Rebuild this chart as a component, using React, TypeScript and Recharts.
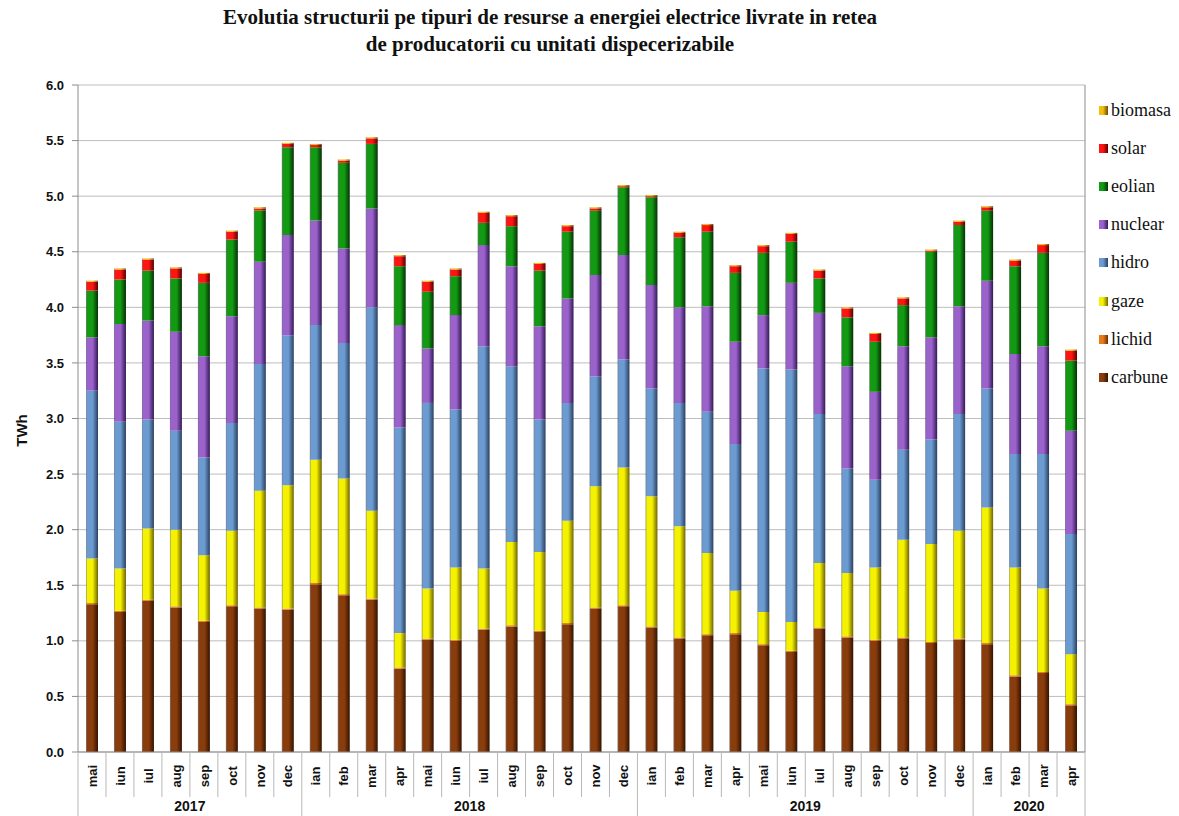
import React from 'react';
import { BarChart, Bar, XAxis, YAxis, CartesianGrid } from 'recharts';

const months = ['mai','iun','iul','aug','sep','oct','nov','dec','ian','feb','mar','apr','mai','iun','iul','aug','sep','oct','nov','dec','ian','feb','mar','apr','mai','iun','iul','aug','sep','oct','nov','dec','ian','feb','mar','apr'];
const yearLabels = ['2017', '2018', '2019', '2020'];
const yearCounts = [8, 12, 12, 4];

const carbune = [1.33,1.26,1.36,1.30,1.17,1.31,1.29,1.28,1.51,1.41,1.37,0.75,1.01,1.00,1.10,1.13,1.08,1.15,1.29,1.31,1.12,1.02,1.05,1.06,0.96,0.90,1.11,1.03,1.00,1.02,0.98,1.01,0.97,0.68,0.71,0.42];
const lichid = [0.01,0.01,0.01,0.01,0.01,0.01,0.01,0.01,0.01,0.01,0.01,0.01,0.01,0.01,0.01,0.01,0.01,0.01,0.01,0.01,0.01,0.01,0.01,0.01,0.01,0.01,0.01,0.01,0.01,0.01,0.01,0.01,0.01,0.01,0.01,0.01];
const gaze = [0.40,0.38,0.64,0.69,0.59,0.67,1.05,1.11,1.11,1.04,0.79,0.31,0.45,0.65,0.54,0.75,0.71,0.92,1.09,1.24,1.17,1.00,0.73,0.38,0.29,0.26,0.58,0.57,0.65,0.88,0.88,0.97,1.22,0.97,0.75,0.45];
const hidro = [1.51,1.32,0.98,0.89,0.88,0.97,1.14,1.35,1.21,1.22,1.83,1.85,1.67,1.42,2.00,1.58,1.19,1.06,0.99,0.97,0.97,1.11,1.27,1.32,2.19,2.27,1.34,0.94,0.79,0.81,0.94,1.05,1.07,1.02,1.21,1.08];
const nuclear = [0.48,0.88,0.89,0.89,0.91,0.96,0.92,0.90,0.94,0.85,0.89,0.92,0.49,0.85,0.91,0.90,0.84,0.94,0.91,0.94,0.93,0.86,0.95,0.92,0.48,0.78,0.91,0.92,0.79,0.93,0.92,0.97,0.97,0.90,0.97,0.93];
const eolian = [0.42,0.40,0.45,0.48,0.66,0.69,0.46,0.79,0.66,0.77,0.58,0.53,0.51,0.35,0.20,0.36,0.50,0.60,0.58,0.61,0.79,0.63,0.67,0.62,0.56,0.37,0.31,0.44,0.45,0.37,0.77,0.73,0.63,0.79,0.84,0.63];
const solar = [0.08,0.09,0.10,0.09,0.08,0.07,0.02,0.03,0.02,0.02,0.05,0.09,0.09,0.06,0.09,0.09,0.06,0.05,0.02,0.01,0.01,0.04,0.06,0.06,0.06,0.07,0.07,0.08,0.07,0.06,0.01,0.03,0.03,0.05,0.07,0.09];
const biomasa = [0.01,0.01,0.01,0.01,0.01,0.01,0.01,0.01,0.01,0.01,0.01,0.01,0.01,0.01,0.01,0.01,0.01,0.01,0.01,0.01,0.01,0.01,0.01,0.01,0.01,0.01,0.01,0.01,0.01,0.01,0.01,0.01,0.01,0.01,0.01,0.01];

const yTicks = [0, 0.5, 1, 1.5, 2, 2.5, 3, 3.5, 4, 4.5, 5, 5.5, 6];

const series = [
  { key: 'carbune', values: carbune, base: '#8a3d0c', dark: '#341200' },
  { key: 'lichid', values: lichid, base: '#ea7a18', dark: '#6a2c00' },
  { key: 'gaze', values: gaze, base: '#f4f200', dark: '#706400' },
  { key: 'hidro', values: hidro, base: '#6b9bd1', dark: '#2a4060' },
  { key: 'nuclear', values: nuclear, base: '#9b62cc', dark: '#321a55' },
  { key: 'eolian', values: eolian, base: '#129a12', dark: '#063006' },
  { key: 'solar', values: solar, base: '#ff1414', dark: '#5a0000' },
  { key: 'biomasa', values: biomasa, base: '#f2be10', dark: '#6a4a00' },
];

const data = months.map((m, i) => {
  const row: any = { month: m };
  series.forEach((s) => { row[s.key] = s.values[i]; });
  return row;
});

const W = 1179;
const H = 816;
const Y_AXIS_W = 78;
const X_AXIS_H = 64;
const M_TOP = 85;
const M_RIGHT = 93;
const PLOT_LEFT = Y_AXIS_W;
const PLOT_RIGHT = W - M_RIGHT - 1;
const BAND = (PLOT_RIGHT - PLOT_LEFT) / months.length;

const groupStarts: number[] = [];
{
  let acc = 0;
  yearCounts.forEach((c) => { groupStarts.push(acc); acc += c; });
}

const MonthTick = (props: any) => {
  const { x, y, payload } = props;
  const i = payload.index;
  const half = BAND / 2;
  const g = groupStarts.indexOf(i);
  const isStart = g >= 0;
  const last = i === months.length - 1;
  return (
    <g>
      <line x1={x - half} x2={x - half} y1={y} y2={isStart ? H : y + 45} stroke="#b8b8b8" strokeWidth={1} />
      {last && <line x1={x + half} x2={x + half} y1={y} y2={H} stroke="#b8b8b8" strokeWidth={1} />}
      <text
        transform={`translate(${x},${y + 24}) rotate(-90)`}
        textAnchor="middle"
        dy="0.36em"
        fontFamily="Liberation Sans, Arial, sans-serif"
        fontWeight="bold"
        fontSize={13}
        fill="#111"
      >
        {payload.value}
      </text>
      {isStart && (
        <text
          x={x - half + (yearCounts[g] * BAND) / 2}
          y={y + 59}
          textAnchor="middle"
          fontFamily="Liberation Sans, Arial, sans-serif"
          fontWeight="bold"
          fontSize={14}
          fill="#111"
        >
          {yearLabels[g]}
        </text>
      )}
    </g>
  );
};

const YLabel = (props: any) => {
  const { viewBox } = props;
  const cx = 22;
  const cy = viewBox.y + viewBox.height / 2 + 12;
  return (
    <text
      transform={`translate(${cx},${cy}) rotate(-90)`}
      textAnchor="middle"
      dy="0.36em"
      fontFamily="Liberation Sans, Arial, sans-serif"
      fontWeight="bold"
      fontSize={15}
      fill="#111"
    >
      TWh
    </text>
  );
};

const legendOrder = [...series].reverse();

export default function App() {
  return (
    <div style={{ position: 'absolute', left: 0, top: 0, width: W, height: H, background: '#fff' }}>
      <div
        style={{
          position: 'absolute',
          left: 0,
          top: 4,
          width: 1100,
          textAlign: 'center',
          fontFamily: '"Liberation Serif", "Times New Roman", serif',
          fontWeight: 'bold',
          fontSize: 21,
          lineHeight: '27px',
          color: '#111',
        }}
      >
        Evolutia structurii pe tipuri de resurse a energiei electrice livrate in retea
        <br />
        de producatorii cu unitati dispecerizabile
      </div>
      <BarChart
        width={W}
        height={H}
        data={data}
        margin={{ top: M_TOP, right: M_RIGHT, left: 0, bottom: 0 }}
        barSize={12}
        style={{ position: 'absolute', left: 0, top: 0 }}
      >
        <defs>
          {series.map((s) => (
            <linearGradient key={s.key} id={`grad-${s.key}`} x1="0" y1="0" x2="1" y2="0">
              <stop offset="0%" stopColor={s.dark} stopOpacity={0.55} />
              <stop offset="12%" stopColor={s.base} />
              <stop offset="55%" stopColor={s.base} />
              <stop offset="100%" stopColor={s.dark} />
            </linearGradient>
          ))}
        </defs>
        <CartesianGrid vertical={false} stroke="#bdbdbd" strokeWidth={1} />
        <XAxis
          dataKey="month"
          interval={0}
          height={X_AXIS_H}
          tickLine={false}
          tickSize={0}
          tickMargin={0}
          axisLine={{ stroke: '#8c8c8c' }}
          tick={<MonthTick />}
        />
        <YAxis
          width={Y_AXIS_W}
          domain={[0, 6]}
          ticks={yTicks}
          interval={0}
          tickFormatter={(v: number) => v.toFixed(1)}
          tickSize={6}
          tickMargin={8}
          axisLine={{ stroke: '#8c8c8c' }}
          tickLine={{ stroke: '#8c8c8c' }}
          tick={{ fontFamily: 'Liberation Sans, Arial, sans-serif', fontWeight: 'bold', fontSize: 13, fill: '#111' }}
          label={<YLabel />}
        />
        <YAxis
          yAxisId="r"
          orientation="right"
          width={1}
          domain={[0, 6]}
          tick={false}
          tickLine={false}
          axisLine={{ stroke: '#8c8c8c' }}
        />
        {series.map((s) => (
          <Bar
            key={s.key}
            dataKey={s.key}
            name={s.key}
            stackId="a"
            fill={`url(#grad-${s.key})`}
            isAnimationActive={false}
          />
        ))}
      </BarChart>
      <div style={{ position: 'absolute', left: 1099, top: 91 }}>
        {legendOrder.map((s) => (
          <div
            key={s.key}
            style={{
              display: 'flex',
              alignItems: 'center',
              height: 38.2,
              fontFamily: '"Liberation Serif", "Times New Roman", serif',
              fontSize: 18,
              color: '#111',
              whiteSpace: 'nowrap',
            }}
          >
            <span
              style={{
                display: 'inline-block',
                width: 9,
                height: 9,
                marginRight: 3,
                background: `linear-gradient(90deg, ${s.base} 0%, ${s.base} 45%, ${s.dark} 100%)`,
              }}
            />
            {s.key}
          </div>
        ))}
      </div>
    </div>
  );
}
